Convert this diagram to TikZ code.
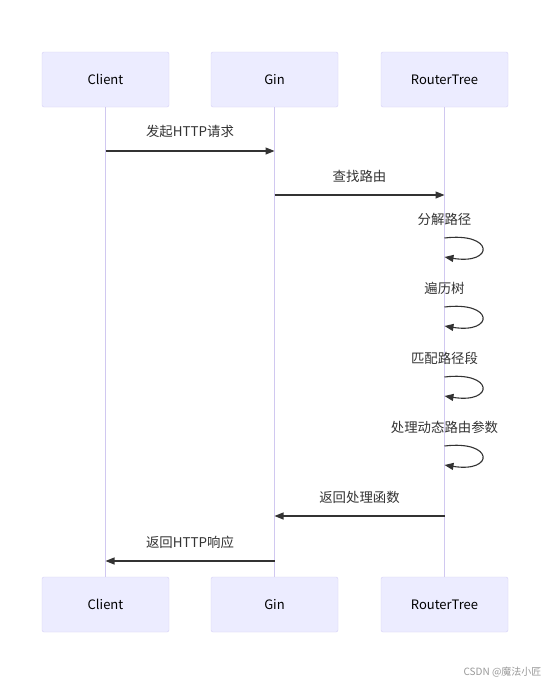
\documentclass[tikz,border=0pt]{standalone}
\usepackage{fontspec}
\setmainfont{Noto Sans CJK SC}
\usetikzlibrary{arrows.meta}
\definecolor{actfill}{HTML}{ECECFF}
\definecolor{actline}{HTML}{D6D0F5}
\definecolor{lifeline}{HTML}{D0C8F0}
\definecolor{msgtext}{HTML}{333333}
\tikzset{
  actor/.style={draw=actline, fill=actfill, rounded corners=2pt, minimum width=127pt,
    minimum height=55pt, inner sep=0pt, text=black, font=\fontsize{13}{15}\selectfont},
  msg/.style={draw=msgtext, line width=1.1pt, -{Triangle[length=9pt,width=7pt]}},
  msglabel/.style={text=msgtext, font=\fontsize{13.4}{15}\selectfont, anchor=center},
}
\begin{document}
\begin{tikzpicture}[x=1pt,y=-1pt]
    \useasboundingbox[fill=white] (0,0) rectangle (550,686);
    % Actors (top and bottom)
    \node[actor] (clientT) at (105.5,79.5) {Client};
    \node[actor] (ginT) at (274.5,79.5) {Gin};
    \node[actor] (treeT) at (444.5,79.5) {RouterTree};
    \node[actor] (clientB) at (105.5,604.5) {Client};
    \node[actor] (ginB) at (274.5,604.5) {Gin};
    \node[actor] (treeB) at (444.5,604.5) {RouterTree};
    % Lifelines
    \draw[lifeline, line width=1pt] (clientT) -- (clientB);
    \draw[lifeline, line width=1pt] (ginT) -- (ginB);
    \draw[lifeline, line width=1pt] (treeT) -- (treeB);
    % Client -> Gin
    \coordinate (c1) at (clientT.south |- 0,151);
    \coordinate (g1) at (ginT.south |- 0,151);
    \draw[msg] (c1) -- (g1);
    \node[msglabel] (m1) at (190,131) {发起HTTP请求};
    % Gin -> RouterTree
    \coordinate (g2) at (ginT.south |- 0,195);
    \coordinate (t2) at (treeT.south |- 0,195);
    \draw[msg] (g2) -- (t2);
    \node[msglabel] (m2) at (359.5,176) {查找路由};
    % Self calls on RouterTree
    \foreach \y/\txt [count=\i] in {238/分解路径, 307/遍历树, 377/匹配路径段, 446/处理动态路由参数}{
      \coordinate (s\i) at (treeT.south |- 0,\y);
      \coordinate (e\i) at (treeT.south |- 0,\y+19);
      \draw[msg] (s\i) .. controls ++(50,-6) and ++(50,8) .. (e\i);
      \node[msglabel] (l\i) at (444.5,\y-19) {\txt};
    }
    % RouterTree -> Gin
    \coordinate (t3) at (treeT.south |- 0,516);
    \coordinate (g3) at (ginT.south |- 0,516);
    \draw[msg] (t3) -- (g3);
    \node[msglabel] (m3) at (359.5,497) {返回处理函数};
    % Gin -> Client
    \coordinate (g4) at (ginT.south |- 0,561);
    \coordinate (c4) at (clientT.south |- 0,561);
    \draw[msg] (g4) -- (c4);
    \node[msglabel] (m4) at (190,542) {返回HTTP响应};
    % watermark
    \node[anchor=east, text=black!40, font=\fontsize{10}{12}\selectfont] (wm) at (545,672) {CSDN @魔法小匠};
\end{tikzpicture}
\end{document}
